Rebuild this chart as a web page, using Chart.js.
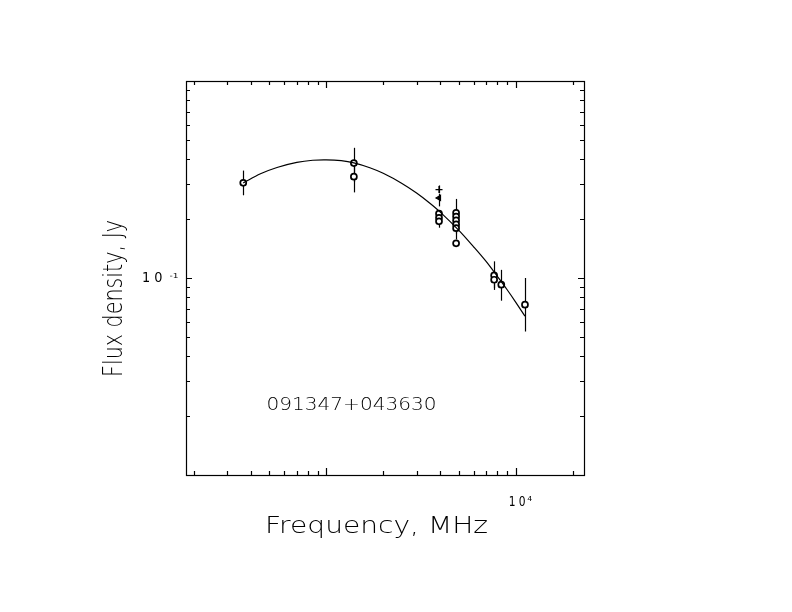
<!DOCTYPE html>
<html>
<head>
    <title>091347+043630 radio spectrum</title>
    <script src="https://cdn.jsdelivr.net/npm/chart.js"></script>
    <style>body { margin: 0; background: #fff; }</style>
</head>
<body>
    <canvas id="spectrumChart" width="792" height="612"></canvas>
    <script>
        // measured flux densities: frequency (MHz), flux (Jy), error bar limits
        const freqs    = [365, 1400, 1400, 3940, 3940, 3940, 4850, 4850, 4850, 4850, 4850, 4850, 7700, 7700, 8400, 11200];
        const fluxes   = [0.304, 0.383, 0.327, 0.212, 0.202, 0.194, 0.214, 0.205, 0.196, 0.187, 0.179, 0.150, 0.103, 0.098, 0.0925, 0.0732];
        const fluxLow  = [0.263, 0.307, 0.272, 0.203, 0.190, 0.180, 0.176, 0.185, 0.176, 0.168, 0.157, 0.144, 0.089, 0.087, 0.0767, 0.0535];
        const fluxHigh = [0.351, 0.458, 0.382, 0.221, 0.214, 0.208, 0.252, 0.225, 0.216, 0.206, 0.201, 0.156, 0.1215, 0.109, 0.110, 0.100];

        // the two other symbols at 3.9 GHz
        const otherFreqs  = [3940, 3940];
        const otherFluxes = [0.281, 0.255];
        const otherLow    = [0.270, 0.231];
        const otherHigh   = [0.295, 0.268];

        // fitted spectrum
        const fitFreqs  = [365, 450, 550, 700, 850, 1000, 1200, 1400, 1700, 2000, 2500, 3000, 3500, 4000, 5000, 6000, 7000, 8000, 9000, 10000, 11200];
        const fitFluxes = [0.304, 0.338, 0.364, 0.386, 0.396, 0.398, 0.394, 0.384, 0.363, 0.340, 0.303, 0.270, 0.241, 0.216, 0.175, 0.144, 0.121, 0.102, 0.0874, 0.0755, 0.0640];

        // tick marks and labels
        const xMinorTicks = [200, 300, 400, 500, 600, 700, 800, 900, 2000, 3000, 4000, 5000, 6000, 7000, 8000, 9000, 20000];
        const xMajorTicks = [1000, 10000];
        const yMinorTicks = [0.02, 0.03, 0.04, 0.05, 0.06, 0.07, 0.08, 0.09, 0.2, 0.3, 0.4, 0.5, 0.6, 0.7, 0.8, 0.9];
        const yMajorTicks = [0.1];
        const xLabelValues = [10000];
        const xLabelExps = ['4'];
        const yLabelValues = [0.1];
        const yLabelExps = ['-1'];

        const sourceName = '091347+043630';
        const FONT = '"DejaVu Sans", sans-serif';

        function fitText(ctx, text, x, y, size, width, angle, weight) {
            ctx.save();
            ctx.font = (weight || '200') + ' ' + size + 'px ' + FONT;
            ctx.translate(x, y);
            ctx.rotate(angle || 0);
            const natural = ctx.measureText(text).width;
            ctx.scale(width / natural, 1);
            ctx.textAlign = 'left';
            ctx.textBaseline = 'alphabetic';
            ctx.fillText(text, 0, 0);
            ctx.restore();
        }

        const errorBars = {
            id: 'errorBars',
            beforeDatasetsDraw(chart) {
                const { ctx, scales: { x, y } } = chart;
                ctx.save();
                ctx.strokeStyle = '#000';
                ctx.lineWidth = 1.2;
                const bar = (f, lo, hi) => {
                    const px = Math.round(x.getPixelForValue(f)) + 0.5;
                    ctx.beginPath();
                    ctx.moveTo(px, y.getPixelForValue(lo));
                    ctx.lineTo(px, y.getPixelForValue(hi));
                    ctx.stroke();
                };
                freqs.forEach((f, i) => bar(f, fluxLow[i], fluxHigh[i]));
                otherFreqs.forEach((f, i) => bar(f, otherLow[i], otherHigh[i]));
                ctx.restore();
            }
        };

        const frame = {
            id: 'frame',
            afterDraw(chart) {
                const { ctx, chartArea: a, scales: { x, y } } = chart;
                ctx.save();
                ctx.strokeStyle = '#000';
                ctx.fillStyle = '#000';
                ctx.lineWidth = 1.2;
                ctx.strokeRect(a.left + 0.5, a.top + 0.5, a.right - a.left, a.bottom - a.top);

                const xTick = (v, len) => {
                    const px = Math.round(x.getPixelForValue(v)) + 0.5;
                    ctx.beginPath();
                    ctx.moveTo(px, a.bottom); ctx.lineTo(px, a.bottom - len);
                    ctx.moveTo(px, a.top); ctx.lineTo(px, a.top + len);
                    ctx.stroke();
                };
                const yTick = (v, len) => {
                    const py = Math.round(y.getPixelForValue(v)) + 0.5;
                    ctx.beginPath();
                    ctx.moveTo(a.left, py); ctx.lineTo(a.left + len, py);
                    ctx.moveTo(a.right, py); ctx.lineTo(a.right - len, py);
                    ctx.stroke();
                };
                xMinorTicks.forEach(v => xTick(v, 4));
                xMajorTicks.forEach(v => xTick(v, 7));
                yMinorTicks.forEach(v => yTick(v, 4));
                yMajorTicks.forEach(v => yTick(v, 6));

                // tick labels: 10 with a small exponent
                xLabelValues.forEach((v, i) => {
                    const px = x.getPixelForValue(v);
                    fitText(ctx, '1 0', px - 7, a.bottom + 31, 14, 17, 0, 'normal');
                    fitText(ctx, xLabelExps[i], px + 11.7, a.bottom + 26, 7, 5, 0, 'normal');
                });
                yLabelValues.forEach((v, i) => {
                    const py = y.getPixelForValue(v);
                    fitText(ctx, '1 0', a.left - 44, py + 3.6, 14, 20.5, 0, 'normal');
                    fitText(ctx, yLabelExps[i], a.left - 16.5, py - 0.3, 7, 9, 0, 'normal');
                });

                // axis titles and source name
                fitText(ctx, 'Frequency, MHz', 265, 533, 23, 223, 0);
                fitText(ctx, 'Flux density, Jy', 122, 377, 26, 157, -Math.PI / 2);
                fitText(ctx, sourceName, 266.5, 410, 18, 170, 0);
                ctx.restore();
            }
        };

        const ctx = document.getElementById('spectrumChart').getContext('2d');
        new Chart(ctx, {
            type: 'scatter',
            data: {
                datasets: [
                    {
                        type: 'line',
                        label: 'fit',
                        data: fitFreqs.map((f, i) => ({ x: f, y: fitFluxes[i] })),
                        borderColor: '#000',
                        borderWidth: 1.2,
                        pointRadius: 0,
                        tension: 0.35,
                        fill: false
                    },
                    {
                        label: 'measured',
                        data: freqs.map((f, i) => ({ x: f, y: fluxes[i] })),
                        pointStyle: 'circle',
                        pointRadius: 3,
                        borderWidth: 1.7,
                        borderColor: '#000',
                        backgroundColor: '#fff'
                    },
                    {
                        label: 'other',
                        data: otherFreqs.map((f, i) => ({ x: f, y: otherFluxes[i] })),
                        pointStyle: ['cross', 'triangle'],
                        rotation: [0, -90],
                        pointRadius: [3.5, 3],
                        borderWidth: 1.2,
                        borderColor: '#000',
                        backgroundColor: '#000'
                    }
                ]
            },
            options: {
                responsive: false,
                animation: false,
                devicePixelRatio: 1,
                layout: { padding: { left: 186, right: 208, top: 81, bottom: 137 } },
                plugins: { legend: { display: false }, tooltip: { enabled: false } },
                scales: {
                    x: { type: 'logarithmic', min: 182, max: 22950, display: false },
                    y: { type: 'logarithmic', min: 0.01, max: 1, display: false }
                }
            },
            plugins: [errorBars, frame]
        });
    </script>
</body>
</html>
